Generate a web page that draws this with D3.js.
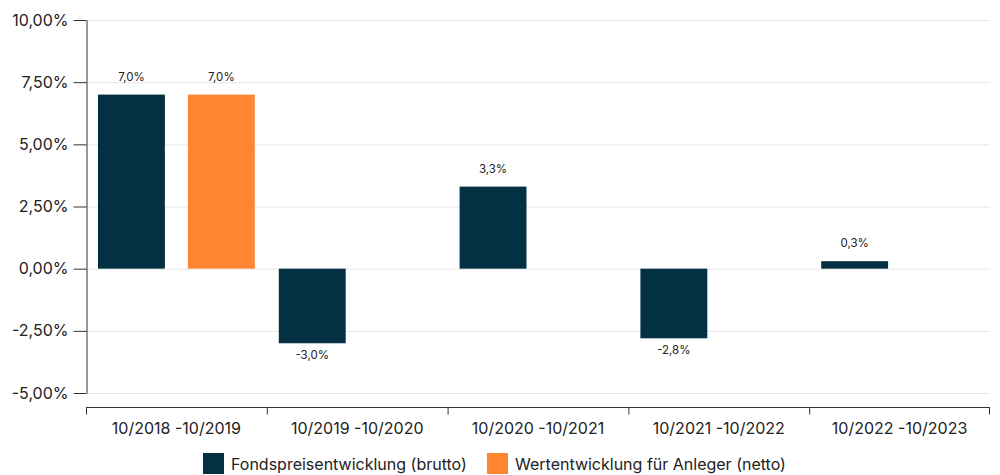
<!DOCTYPE html>
<html>
<head>
<meta charset="utf-8">
<script src="https://cdn.jsdelivr.net/npm/d3@7"></script>
<style>
  body { margin: 0; background: #fff; }
  #stage { width: 1000px; height: 475px; }
  text { font-family: Inter, "Noto Sans", sans-serif; fill: #222; }
</style>
</head>
<body>
<div id="stage"></div>
<script>
const categories = ["10/2018 -10/2019", "10/2019 -10/2020", "10/2020 -10/2021", "10/2021 -10/2022", "10/2022 -10/2023"];
const seriesNames = ["Fondspreisentwicklung (brutto)", "Wertentwicklung für Anleger (netto)"];
const brutto = [7.0, -3.0, 3.3, -2.8, 0.3];
const netto = [7.0, null, null, null, null];
const yTicks = [-5, -2.5, 0, 2.5, 5, 7.5, 10];
const colors = ["#033042", "#ff8533"];

const width = 1000;
const height = 475;

const svg = d3.select("#stage")
  .append("svg")
  .attr("width", width)
  .attr("height", height);

const x = d3.scaleBand()
  .domain(categories)
  .range([86, 990])
  .padding(0);

const x1 = d3.scaleBand()
  .domain([0, 1])
  .range([12, x.bandwidth() - 12])
  .paddingInner(0.256)
  .paddingOuter(0);

const y = d3.scaleLinear()
  .domain([-5, 10])
  .range([393, 20]);

// plain hyphen for negatives, comma as decimal mark
const fmtAxis = v => d3.format(".2f")(v).replace("−", "-").replace(".", ",") + "%";
const fmtVal = v => d3.format(".1f")(v).replace("−", "-").replace(".", ",") + "%";

// grid
svg.append("g")
  .selectAll("line")
  .data(yTicks)
  .join("line")
  .attr("x1", 86)
  .attr("x2", 990)
  .attr("y1", d => y(d) + 0.5)
  .attr("y2", d => y(d) + 0.5)
  .attr("stroke", "#e6e6e6")
  .attr("stroke-width", 1);

// y axis
const yAxis = svg.append("g")
  .attr("transform", "translate(86.5,0)")
  .call(d3.axisLeft(y).tickValues(yTicks).tickFormat(fmtAxis).tickSize(13).tickSizeOuter(0));
yAxis.select(".domain").attr("stroke", "#333");
yAxis.selectAll(".tick line").attr("stroke", "#333");
yAxis.selectAll(".tick text")
  .attr("font-size", "16px")
  .attr("font-family", "Inter, 'Noto Sans', sans-serif")
  .attr("fill", "#222")
  .attr("x", -18);

// x axis
const xAxis = svg.append("g")
  .attr("transform", "translate(0,407.5)");
xAxis.append("line")
  .attr("x1", 86).attr("x2", 990)
  .attr("stroke", "#333");
xAxis.selectAll("line.tk")
  .data(categories.concat(["end"]))
  .join("line")
  .attr("class", "tk")
  .attr("x1", (d, i) => i < categories.length ? x(d) + 0.5 : x.range()[1] - 0.5)
  .attr("x2", (d, i) => i < categories.length ? x(d) + 0.5 : x.range()[1] - 0.5)
  .attr("y1", 0)
  .attr("y2", 7)
  .attr("stroke", "#333");
xAxis.selectAll("text")
  .data(categories)
  .join("text")
  .attr("x", d => x(d) + x.bandwidth() / 2)
  .attr("y", 26)
  .attr("text-anchor", "middle")
  .attr("font-size", "16px")
  .text(d => d);

// bars
const rows = categories.map((c, i) => ({ c, vals: [brutto[i], netto[i]] }));
const groups = svg.append("g")
  .selectAll("g")
  .data(rows)
  .join("g")
  .attr("transform", d => `translate(${x(d.c)},0)`);

const cells = groups.selectAll("g")
  .data(d => d.vals.map((v, k) => ({ v, k })).filter(e => e.v !== null))
  .join("g");

cells.append("rect")
  .attr("x", d => x1(d.k))
  .attr("width", x1.bandwidth())
  .attr("y", d => y(Math.max(0, d.v)))
  .attr("height", d => Math.abs(y(d.v) - y(0)))
  .attr("fill", d => colors[d.k]);

cells.append("text")
  .attr("x", d => x1(d.k) + x1.bandwidth() / 2)
  .attr("y", d => d.v >= 0 ? y(d.v) - 14 : y(d.v) + 16)
  .attr("text-anchor", "middle")
  .attr("font-size", "11.5px")
  .text(d => fmtVal(d.v));

// legend
const legend = svg.append("g").attr("transform", "translate(203,453)");
const lx = [0, 284];
seriesNames.forEach((name, i) => {
  legend.append("rect")
    .attr("x", lx[i]).attr("y", 0)
    .attr("width", 21).attr("height", 21)
    .attr("fill", colors[i]);
  legend.append("text")
    .attr("x", lx[i] + 28).attr("y", 17)
    .attr("font-size", "16px")
    .text(name);
});
</script>
</body>
</html>
